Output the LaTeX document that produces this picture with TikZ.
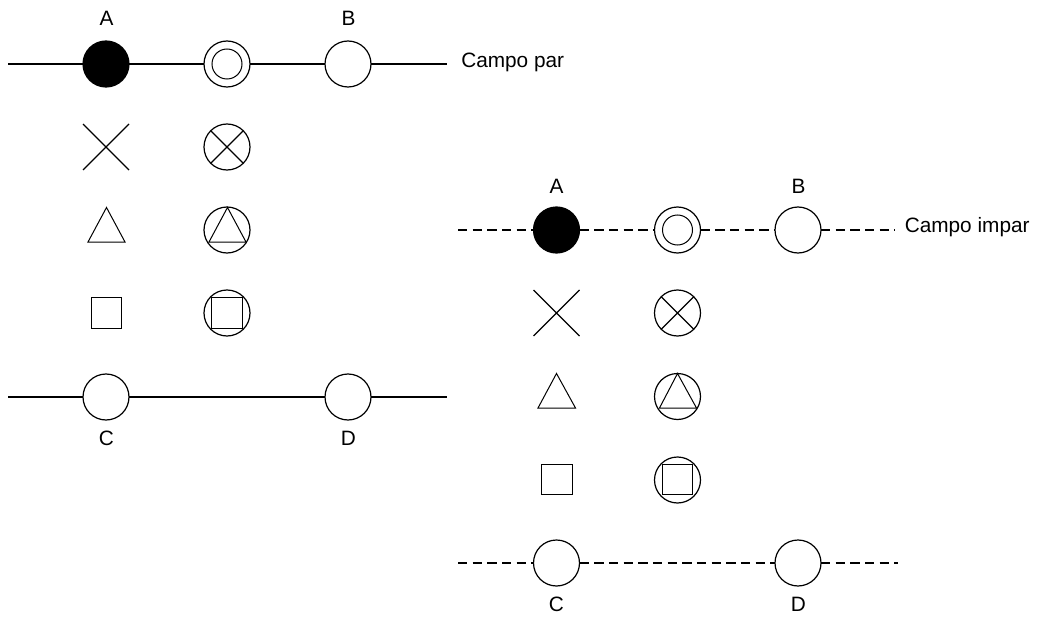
\documentclass[tikz,border=0pt]{standalone}
\usepackage{fontspec}
\setmainfont{Liberation Sans}
\usetikzlibrary{shapes.misc}
\tikzset{
  ring/.style={draw,circle,line width=.9pt,inner sep=0pt,outer sep=0pt,minimum size=34.5pt},
  innerring/.style={draw,circle,line width=.75pt,inner sep=0pt,outer sep=0pt,minimum size=22.5pt},
  solidring/.style={ring,fill=black},
  crossmark/.style={draw,cross out,line width=.9pt,inner sep=0pt,outer sep=0pt,minimum size=34.5pt},
  boxmark/.style={draw,rectangle,line width=.9pt,inner sep=0pt,outer sep=0pt,minimum size=23pt},
  shapeline/.style={line width=.75pt,line join=miter},
  wire/.style={line width=1.2pt},
  dashwire/.style={line width=1.2pt,dash pattern=on 7pt off 4pt},
  lab/.style={font=\fontsize{15.6pt}{18pt}\selectfont,inner sep=0pt,anchor=base},
  sidelab/.style={lab,anchor=base west}
}
\newcommand{\xmarkin}[1]{\draw[line width=.9pt] (#1.45) -- (#1.225) (#1.135) -- (#1.315);}
\begin{document}
\begin{tikzpicture}[x=.75pt,y=-.75pt]
\useasboundingbox (0,0) rectangle (1040,617);
% left panel
\coordinate (ls1) at (8,64);
\coordinate (le1) at (447,64);
\coordinate (ls2) at (8,397);
\coordinate (le2) at (447,397);
\node[solidring] (a1) at (106,64) {};
\node[ring] (d1) at (227,64) {};
\node[innerring] (d1i) at (227,64) {};
\node[ring] (b1) at (348,64) {};
\node[crossmark] (x1) at (106,147) {};
\node[ring] (xc1) at (227,147) {};
\xmarkin{xc1}
\coordinate (t1a) at (106.5,207.5);
\coordinate (t1b) at (88,242);
\coordinate (t1c) at (125,242);
\draw[shapeline] (t1a) -- (t1b) -- (t1c) -- cycle;
\node[ring] (tc1) at (227,230) {};
\coordinate (t2a) at (227.5,207.5);
\coordinate (t2b) at (209,242);
\coordinate (t2c) at (246,242);
\draw[shapeline] (t2a) -- (t2b) -- (t2c) -- cycle;
\node[boxmark] (s1) at (106.5,313) {};
\node[ring] (sc1) at (227,313) {};
\node[boxmark] (s2) at (227,313) {};
\node[ring] (c1) at (106,397) {};
\node[ring] (e1) at (348,397) {};
\draw[wire] (ls1) -- (a1) (a1) -- (d1) (d1) -- (b1) (b1) -- (le1);
\draw[wire] (ls2) -- (c1) (c1) -- (e1) (e1) -- (le2);
\node[lab] (la1) at (106.5,25.5) {A};
\node[lab] (lb1) at (348.5,25.5) {B};
\node[lab] (lc1) at (106.5,445) {C};
\node[lab] (ld1) at (348.5,445) {D};
\node[sidelab] (cp) at (461,67.5) {Campo par};
% right panel
\coordinate (rs1) at (458,230);
\coordinate (re1) at (895,230);
\coordinate (rs2) at (458,563);
\coordinate (re2) at (898,563);
\node[solidring] (a2) at (556.5,230) {};
\node[ring] (d2) at (677.5,230) {};
\node[innerring] (d2i) at (677.5,230) {};
\node[ring] (b2) at (798,230) {};
\node[crossmark] (x2) at (556.5,313) {};
\node[ring] (xc2) at (677.5,313) {};
\xmarkin{xc2}
\coordinate (t3a) at (556.5,373.5);
\coordinate (t3b) at (538,408);
\coordinate (t3c) at (575.5,408);
\draw[shapeline] (t3a) -- (t3b) -- (t3c) -- cycle;
\node[ring] (tc2) at (677.5,396.5) {};
\coordinate (t4a) at (677.5,373.5);
\coordinate (t4b) at (659.5,408);
\coordinate (t4c) at (696.5,408);
\draw[shapeline] (t4a) -- (t4b) -- (t4c) -- cycle;
\node[boxmark] (s3) at (556.8,479.5) {};
\node[ring] (sc2) at (677.5,480) {};
\node[boxmark] (s4) at (677.5,479.5) {};
\node[ring] (c2) at (556.5,563) {};
\node[ring] (e2) at (798,563) {};
\draw[dashwire] (rs1) -- (a2);
\draw[dashwire] (a2) -- (d2);
\draw[dashwire] (d2) -- (b2);
\draw[dashwire] (b2) -- (re1);
\draw[dashwire] (rs2) -- (c2);
\draw[dashwire] (c2) -- (e2);
\draw[dashwire] (e2) -- (re2);
\node[lab] (la2) at (556.5,193.5) {A};
\node[lab] (lb2) at (798.5,193.5) {B};
\node[lab] (lc2) at (556.5,611) {C};
\node[lab] (ld2) at (798.5,611) {D};
\node[sidelab] (ci) at (904.5,232.5) {Campo impar};
\end{tikzpicture}
\end{document}
